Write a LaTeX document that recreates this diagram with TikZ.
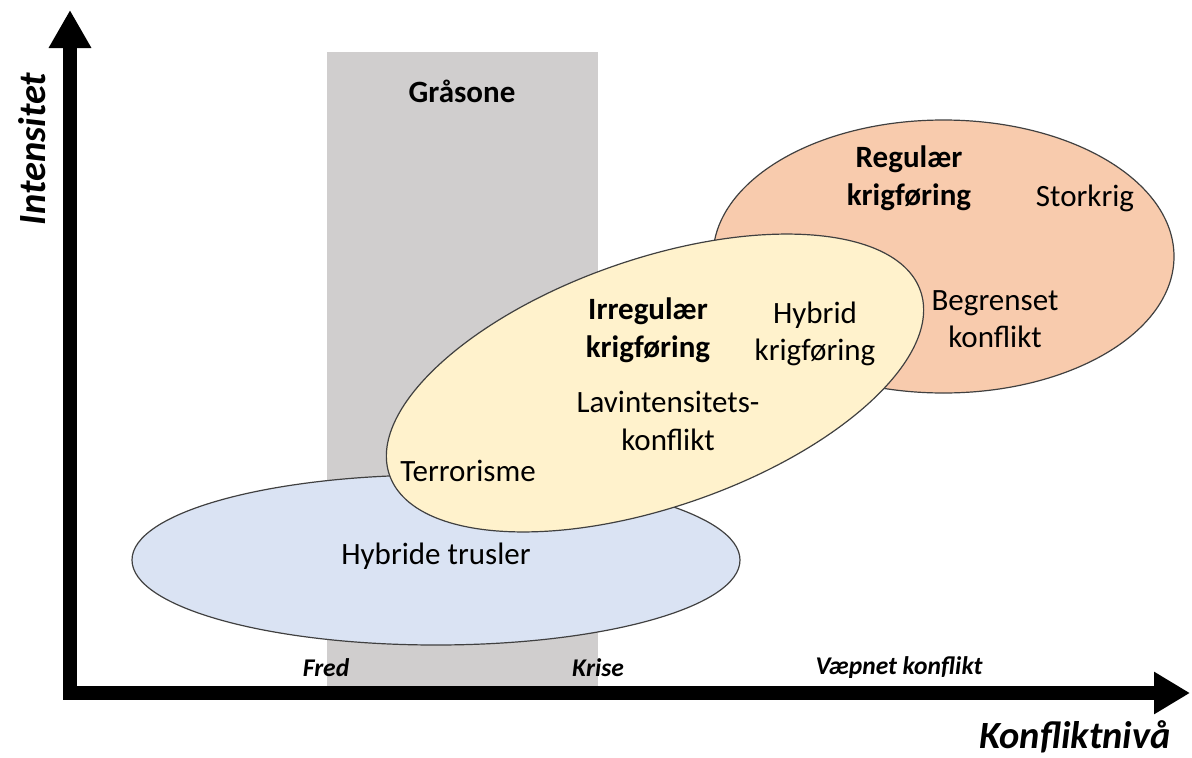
\documentclass[tikz,border=0pt]{standalone}
\usepackage{fontspec}
\setmainfont{Carlito}
\usetikzlibrary{shapes.geometric,arrows.meta}
\definecolor{grayzone}{HTML}{D0CECE}
\definecolor{blueell}{HTML}{DAE3F3}
\definecolor{orangeell}{HTML}{F8CBAD}
\definecolor{yellowell}{HTML}{FFF2CC}
\definecolor{edgecol}{HTML}{404040}
\begin{document}
\begin{tikzpicture}[x=1pt,y=-1pt,
  zone/.style={ellipse,draw=edgecol,line width=1.2pt,inner sep=0pt},
  lbl/.style={inner sep=0pt,align=center,font=\fontsize{31}{37.5}\selectfont},
  blbl/.style={lbl,font=\fontsize{31}{38}\selectfont\bfseries},
  axlbl/.style={inner sep=0pt,font=\fontsize{38.5}{44}\selectfont\bfseries\itshape},
  ticklbl/.style={inner sep=0pt,font=\fontsize{25.5}{30}\selectfont\bfseries\itshape},
  axisline/.style={line width=14pt,line join=miter,
    {Triangle[length=38pt,width=40pt]}-{Triangle[length=36pt,width=40pt]}}]
\useasboundingbox (0,0) rectangle (1192,758);
% grey zone
\fill[grayzone] (327,52) rectangle (598,693);
\node[blbl] (graa) at (462,91) {Gråsone};
% ellipses
\node[zone,fill=blueell,minimum width=608pt,minimum height=170pt] (blue) at (436,560) {};
\node[zone,fill=orangeell,minimum width=461pt,minimum height=273pt] (orange) at (943.5,256.5) {};
\node[zone,fill=yellowell,minimum width=562pt,minimum height=248pt,rotate=19.1] (yellow) at (655,383) {};
% axes
\coordinate (O) at (70,693);
\coordinate (ytip) at (70,10);
\coordinate (xtip) at (1190,693);
\draw[axisline] (ytip) -- (O) -- (xtip);
% texts
\node[blbl] (reg) at (909,178) {Regulær\\krigføring};
\node[lbl] (stor) at (1085,198) {Storkrig};
\node[lbl] (begr) at (995,319) {Begrenset\\konflikt};
\node[blbl] (irr) at (648,330) {Irregulær\\krigføring};
\node[lbl] (hyb) at (815,334) {Hybrid\\krigføring};
\node[lbl] (lav) at (668,421) {Lavintensitets-\\konflikt};
\node[lbl] (terr) at (468,471) {Terrorisme};
\node[lbl] (htr) at (436,556) {Hybride trusler};
\node[ticklbl] (fred) at (326,668) {Fred};
\node[ticklbl] (krise) at (598,668) {Krise};
\node[ticklbl] (vk) at (899,668) {Væpnet konflikt};
\node[axlbl,rotate=90] (int) at (32,149) {Intensitet};
\node[axlbl] (kon) at (1075,737) {Konfliktnivå};
\end{tikzpicture}
\end{document}
